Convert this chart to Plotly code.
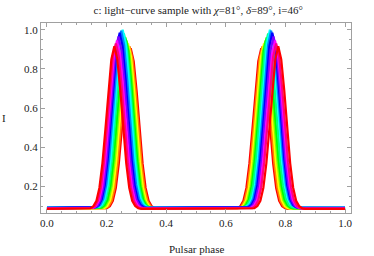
import plotly.graph_objects as go

# curve colours (Hue steps, red -> red)
curve_colors = [
    "#ff0000", "#ff8000", "#ffff00", "#80ff00", "#00ff00", "#00ff80", "#00ffff",
    "#0080ff", "#0000ff", "#8000ff", "#ff00ff", "#ff0080", "#ff0000",
]
# peak phase of each curve, first and second pulse
peak1 = [0.281, 0.277, 0.272, 0.267, 0.263, 0.258, 0.254, 0.249, 0.244, 0.240, 0.235, 0.231, 0.226]
peak2 = [0.719, 0.723, 0.728, 0.733, 0.737, 0.742, 0.748, 0.752, 0.756, 0.760, 0.765, 0.769, 0.776]
# peak intensity of each curve
peak_height = [0.905, 0.915, 0.93, 0.945, 0.96, 0.98, 1.0, 0.995, 0.985, 0.965, 0.945, 0.93, 0.915]
# off-pulse level of each curve
baseline = [0.086, 0.086, 0.087, 0.088, 0.089, 0.091, 0.093, 0.092, 0.091, 0.089, 0.088, 0.087, 0.086]
# pulse profile: phase offset from peak, fraction of pulse height
profile_dx = [0.0, 0.01, 0.02, 0.03, 0.04, 0.05, 0.06, 0.07, 0.08, 0.09]
profile_frac = [1.0, 0.92, 0.73, 0.49, 0.28, 0.13, 0.05, 0.017, 0.004, 0.0]

x_ticks = [0.0, 0.2, 0.4, 0.6, 0.8, 1.0]
y_ticks = [0.2, 0.4, 0.6, 0.8, 1.0]

SERIF = "Liberation Serif"


def pulse(center, height, base):
    xs, ys = [], []
    for dx, f in zip(reversed(profile_dx), reversed(profile_frac)):
        xs.append(center - dx)
        ys.append(base + (height - base) * f)
    for dx, f in zip(profile_dx[1:], profile_frac[1:]):
        xs.append(center + dx)
        ys.append(base + (height - base) * f)
    return xs, ys


fig = go.Figure()
for col, p1, p2, h, b in zip(curve_colors, peak1, peak2, peak_height, baseline):
    x1, y1 = pulse(p1, h, b)
    x2, y2 = pulse(p2, h, b)
    fig.add_trace(
        go.Scatter(
            x=[0.0] + x1 + x2 + [1.0],
            y=[b] + y1 + y2 + [b],
            mode="lines",
            line=dict(color=col, width=2.2),
            showlegend=False,
            hoverinfo="skip",
        )
    )

font = dict(family=SERIF, size=11, color="#222222")
axis_common = dict(
    showline=True,
    linecolor="#a0a0a0",
    linewidth=1,
    mirror="allticks",
    ticks="inside",
    ticklen=4,
    tickcolor="#a0a0a0",
    showgrid=False,
    zeroline=False,
    automargin=False,
    tickfont=font,
    minor=dict(ticks="inside", ticklen=2, tickcolor="#a0a0a0", dtick=0.05),
)

fig.update_layout(
    width=374,
    height=256,
    margin=dict(l=41, r=23, t=23, b=43),
    paper_bgcolor="#ffffff",
    plot_bgcolor="#ffffff",
    font=font,
    title=dict(
        text="c: light\u2212curve sample with <i>\u03c7</i>=81\u00b0, <i>\u03b4</i>=89\u00b0, i=46\u00b0",
        x=0.53,
        xanchor="center",
        y=0.962,
        yanchor="middle",
        font=dict(family=SERIF, size=11, color="#222222"),
    ),
    annotations=[
        dict(text="I", xref="paper", yref="paper", x=-0.118, y=0.5,
             xanchor="center", yanchor="middle", showarrow=False, font=font),
        dict(text="Pulsar phase", xref="paper", yref="paper", x=0.5, y=-0.19,
             xanchor="center", yanchor="middle", showarrow=False, font=font),
    ],
)
fig.update_xaxes(
    range=[-0.02, 1.02],
    tickvals=x_ticks,
    ticktext=[f"{v:.1f}" for v in x_ticks],
    **axis_common,
)
fig.update_yaxes(
    range=[0.065, 1.034],
    tickvals=y_ticks,
    ticktext=[f"{v:.1f}" for v in y_ticks],
    **axis_common,
)

fig.write_html(
    "out.html",
    config={"displayModeBar": False},
    post_script="document.body.style.margin='0';",
)
